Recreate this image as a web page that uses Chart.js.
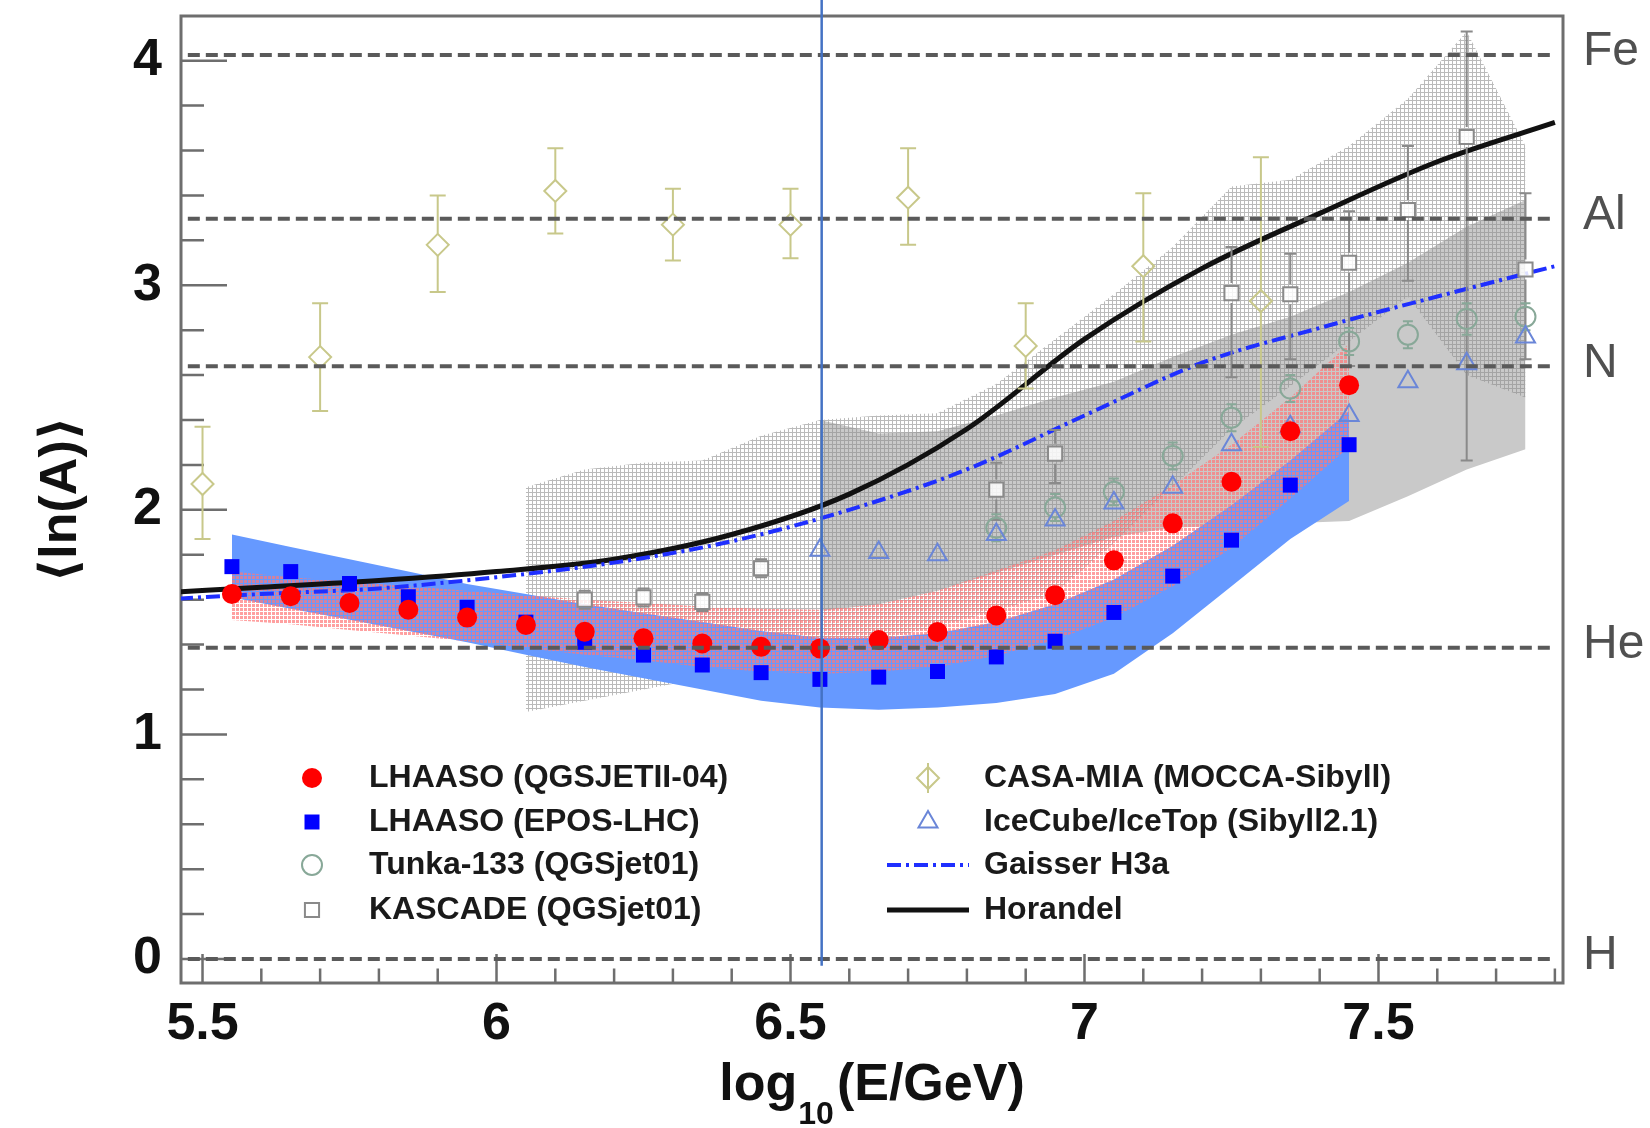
<!DOCTYPE html>
<html>
<head>
<meta charset="utf-8">
<title>Mean logarithmic mass vs energy</title>
<script src="https://cdn.jsdelivr.net/npm/chart.js@4.4.1/dist/chart.umd.min.js"></script>
<style>
  html, body { margin: 0; padding: 0; background: #fff; }
  #wrap { width: 1650px; height: 1128px; }
</style>
</head>
<body>
<div id="wrap"><canvas id="lnA" width="1650" height="1128"></canvas></div>
<script>
const FONT = '"Liberation Sans", Arial, "DejaVu Sans", sans-serif';

// LHAASO energy bins (log10 E/GeV)
const lhaasoE = [5.55, 5.65, 5.75, 5.85, 5.95, 6.05, 6.15, 6.25, 6.35, 6.45,
                 6.55, 6.65, 6.75, 6.85, 6.95, 7.05, 7.15, 7.25, 7.35, 7.45];
const qgsLnA    = [1.625, 1.615, 1.585, 1.555, 1.52, 1.487, 1.457, 1.428, 1.405, 1.39,
                   1.383, 1.42, 1.456, 1.53, 1.62, 1.775, 1.94, 2.125, 2.35, 2.555];
const qgsSysHi  = [1.725, 1.70, 1.68, 1.66, 1.64, 1.62, 1.60, 1.585, 1.57, 1.56,
                   1.555, 1.58, 1.64, 1.73, 1.82, 1.95, 2.11, 2.29, 2.50, 2.74];
const qgsSysLo  = [1.51, 1.49, 1.465, 1.44, 1.415, 1.385, 1.355, 1.33, 1.30, 1.28,
                   1.27, 1.28, 1.30, 1.35, 1.42, 1.52, 1.66, 1.83, 2.05, 2.28];
const eposLnA   = [1.747, 1.725, 1.672, 1.613, 1.566, 1.50, 1.41, 1.353, 1.309, 1.275,
                   1.245, 1.255, 1.28, 1.345, 1.415, 1.543, 1.705, 1.865, 2.11, 2.29];
const eposSysHi = [1.89, 1.835, 1.78, 1.725, 1.67, 1.625, 1.58, 1.54, 1.50, 1.46,
                   1.43, 1.43, 1.45, 1.50, 1.58, 1.69, 1.84, 2.02, 2.22, 2.44];
const eposSysLo = [1.61, 1.56, 1.51, 1.46, 1.41, 1.355, 1.30, 1.25, 1.20, 1.15,
                   1.12, 1.11, 1.12, 1.14, 1.18, 1.27, 1.45, 1.66, 1.87, 2.04];

// KASCADE
const kascadeE     = [6.15, 6.25, 6.35, 6.45, 6.85, 6.95, 7.25, 7.35, 7.45, 7.55, 7.65, 7.75];
const kascadeLnA   = [1.60, 1.61, 1.59, 1.74, 2.09, 2.25, 2.965, 2.96, 3.10, 3.335, 3.66, 3.07];
const kascadeErrLo = [1.56, 1.57, 1.55, 1.70, 1.955, 2.12, 2.59, 2.67, 2.64, 3.02, 2.22, 2.67];
const kascadeErrHi = [1.64, 1.65, 1.63, 1.78, 2.21, 2.355, 3.17, 3.14, 3.33, 3.62, 4.13, 3.41];
const kascadeSysE  = [6.05, 6.15, 6.25, 6.35, 6.45, 6.55, 6.65, 6.75, 6.85, 6.95,
                      7.05, 7.15, 7.25, 7.35, 7.45, 7.55, 7.65, 7.75];
const kascadeSysHi = [2.10, 2.18, 2.21, 2.22, 2.33, 2.40, 2.42, 2.43, 2.56, 2.76,
                      2.96, 3.17, 3.44, 3.47, 3.62, 3.83, 4.13, 3.62];
const kascadeSysLo = [1.10, 1.15, 1.20, 1.25, 1.30, 1.36, 1.42, 1.48, 1.55, 1.63,
                      1.85, 2.10, 2.36, 2.55, 2.75, 2.95, 2.60, 2.50];

// solid grey systematic band
const greySysE  = [6.55, 6.65, 6.75, 6.85, 6.95, 7.05, 7.15, 7.25, 7.35, 7.45, 7.55, 7.65, 7.75];
const greySysHi = [2.40, 2.34, 2.35, 2.42, 2.50, 2.57, 2.68, 2.78, 2.86, 2.97, 3.10, 3.26, 3.38];
const greySysLo = [1.55, 1.58, 1.64, 1.72, 1.80, 1.88, 1.92, 1.93, 1.94, 1.95, 2.06, 2.18, 2.27];

// Tunka-133
const tunkaE     = [6.85, 6.95, 7.05, 7.15, 7.25, 7.35, 7.45, 7.55, 7.65, 7.75];
const tunkaLnA   = [1.92, 2.01, 2.08, 2.24, 2.41, 2.54, 2.75, 2.78, 2.85, 2.86];
const tunkaErrLo = [1.86, 1.95, 2.02, 2.18, 2.35, 2.48, 2.69, 2.72, 2.78, 2.80];
const tunkaErrHi = [1.98, 2.07, 2.14, 2.30, 2.47, 2.60, 2.81, 2.84, 2.92, 2.92];

// IceCube/IceTop
const iceTopE   = [6.55, 6.65, 6.75, 6.85, 6.95, 7.05, 7.15, 7.25, 7.35, 7.45, 7.55, 7.65, 7.75];
const iceTopLnA = [1.82, 1.81, 1.80, 1.89, 1.955, 2.03, 2.10, 2.29, 2.37, 2.42, 2.57, 2.65, 2.77];

// CASA-MIA
const casaE     = [5.5, 5.7, 5.9, 6.1, 6.3, 6.5, 6.7, 6.9, 7.1, 7.3];
const casaLnA   = [2.115, 2.68, 3.18, 3.42, 3.27, 3.27, 3.39, 2.73, 3.085, 2.93];
const casaErrLo = [1.87, 2.44, 2.97, 3.23, 3.11, 3.12, 3.18, 2.54, 2.75, 2.28];
const casaErrHi = [2.37, 2.92, 3.40, 3.61, 3.43, 3.43, 3.61, 2.92, 3.41, 3.57];

// model curves
const modelE      = [5.46, 5.6, 5.8, 6.0, 6.2, 6.4, 6.6, 6.8, 7.0, 7.2, 7.4, 7.6, 7.80];
const horandelLnA = [1.635, 1.655, 1.685, 1.725, 1.78, 1.89, 2.07, 2.36, 2.76, 3.075, 3.32, 3.55, 3.725];
const gaisserLnA  = [1.605, 1.625, 1.65, 1.70, 1.765, 1.86, 2.00, 2.18, 2.42, 2.655, 2.81, 2.95, 3.085];

// pure-element reference levels
const elementNames = ['H', 'He', 'N', 'Al', 'Fe'];
const elementLnA   = [0, 1.386, 2.639, 3.296, 4.025];
const elementSpan  = [5.475, 7.80];

const xRange = [5.4634, 7.8138];
const yRange = [-0.107, 4.199];
const cutE = 6.553;
const cutBottom = -0.03;

const pts = (xs, ys) => xs.map((x, i) => ({x, y: ys[i]}));

function pattern(size, paint) {
  const c = document.createElement('canvas');
  c.width = c.height = size;
  const g = c.getContext('2d');
  paint(g);
  return g.createPattern(c, 'repeat');
}
const greyGrid = pattern(4, g => {
  g.fillStyle = 'rgba(140,140,140,0.6)';
  g.fillRect(0, 0, 4, 1);
  g.fillRect(0, 1, 1, 3);
});
const pinkGrid = pattern(4, g => {
  g.fillStyle = 'rgba(255,120,120,0.7)';
  g.fillRect(0, 0, 3, 3);
});

function band(name, xs, hi, lo, fillColor, order) {
  const base = {borderWidth: 0, pointRadius: 0, order};
  return [
    {...base, label: name + ' upper', data: pts(xs, hi), fill: false},
    {...base, label: name + ' lower', data: pts(xs, lo), fill: '-1', backgroundColor: fillColor}
  ];
}

function markers(label, xs, ys, style, radius, fillColor, lineColor, lineWidth, order, extra) {
  return Object.assign({
    label, data: pts(xs, ys), showLine: false, order,
    pointStyle: style, pointRadius: radius,
    pointBackgroundColor: fillColor, pointBorderColor: lineColor, pointBorderWidth: lineWidth,
    borderColor: lineColor, backgroundColor: fillColor
  }, extra || {});
}

const datasets = [
  ...band('grey sys', greySysE, greySysHi, greySysLo, '#c9c9c9', 100),
  ...band('KASCADE sys', kascadeSysE, kascadeSysHi, kascadeSysLo, greyGrid, 98),
  ...band('EPOS sys', lhaasoE, eposSysHi, eposSysLo, '#6699ff', 96),
  ...band('QGSJET sys', lhaasoE, qgsSysHi, qgsSysLo, pinkGrid, 94),
  {label: 'Horandel', data: pts(modelE, horandelLnA), borderColor: '#111111', borderWidth: 5,
   pointRadius: 0, fill: false, cubicInterpolationMode: 'monotone', order: 90},
  {label: 'Gaisser H3a', data: pts(modelE, gaisserLnA), borderColor: '#1f2fff', borderWidth: 4,
   borderDash: [14, 5, 3, 5], pointRadius: 0, fill: false, cubicInterpolationMode: 'monotone', order: 89},
  markers('KASCADE (QGSjet01)', kascadeE, kascadeLnA, 'rect', 10, 'rgba(255,255,255,0.85)', '#8a8a8a', 2, 80,
          {errLo: kascadeErrLo, errHi: kascadeErrHi, capHalf: 6}),
  markers('Tunka-133 (QGSjet01)', tunkaE, tunkaLnA, 'circle', 10, 'rgba(0,0,0,0)', '#88a898', 2, 79,
          {errLo: tunkaErrLo, errHi: tunkaErrHi, capHalf: 5}),
  markers('IceCube/IceTop (Sibyll2.1)', iceTopE, iceTopLnA, 'triangle', 11, 'rgba(0,0,0,0)', '#6a86d8', 2, 78),
  markers('CASA-MIA (MOCCA-Sibyll)', casaE, casaLnA, 'rectRot', 11, 'rgba(0,0,0,0)', '#c8c88a', 2, 77,
          {errLo: casaErrLo, errHi: casaErrHi, capHalf: 8, legendBar: true}),
  markers('LHAASO (EPOS-LHC)', lhaasoE, eposLnA, 'rect', 10.6, '#0000ff', '#0000ff', 0, 70),
  markers('LHAASO (QGSJETII-04)', lhaasoE, qgsLnA, 'circle', 10, '#ff0000', '#ff0000', 0, 69),
  ...elementLnA.map((v, i) => ({
    label: elementNames[i], data: elementSpan.map(x => ({x, y: v})),
    borderColor: '#5a5a5a', borderWidth: 4, borderDash: [12, 6], pointRadius: 0, fill: false, order: 1
  }))
];

const legendRows = [778, 822, 865, 910];
const legendCols = [{marker: 312, text: 369}, {marker: 928, text: 984}];
const legendEntries = [
  ['LHAASO (QGSJETII-04)', 0, 0], ['LHAASO (EPOS-LHC)', 0, 1],
  ['Tunka-133 (QGSjet01)', 0, 2], ['KASCADE (QGSjet01)', 0, 3],
  ['CASA-MIA (MOCCA-Sibyll)', 1, 0], ['IceCube/IceTop (Sibyll2.1)', 1, 1],
  ['Gaisser H3a', 1, 2], ['Horandel', 1, 3]
];

function markerPath(ctx, style, x, y, r) {
  ctx.beginPath();
  if (style === 'circle') {
    ctx.arc(x, y, r, 0, Math.PI * 2);
  } else if (style === 'rect') {
    const h = r * Math.SQRT1_2;
    ctx.rect(x - h, y - h, 2 * h, 2 * h);
  } else if (style === 'rectRot') {
    ctx.moveTo(x - r, y); ctx.lineTo(x, y - r); ctx.lineTo(x + r, y); ctx.lineTo(x, y + r);
    ctx.closePath();
  } else if (style === 'triangle') {
    let a = 0;
    ctx.moveTo(x + Math.sin(a) * r, y - Math.cos(a) * r);
    a += 2 * Math.PI / 3;
    ctx.lineTo(x + Math.sin(a) * r, y - Math.cos(a) * r);
    a += 2 * Math.PI / 3;
    ctx.lineTo(x + Math.sin(a) * r, y - Math.cos(a) * r);
    ctx.closePath();
  }
}

// frame with inward ticks, ROOT style
const rootFrame = {
  id: 'rootFrame',
  beforeDatasetsDraw(chart) {
    const {ctx, chartArea: a, scales: {x, y}} = chart;
    ctx.save();
    ctx.strokeStyle = '#6e6e6e';
    ctx.lineWidth = 3;
    ctx.strokeRect(a.left, a.top, a.right - a.left, a.bottom - a.top);
    ctx.lineWidth = 2.5;
    ctx.beginPath();
    y.ticks.forEach(t => {
      const py = y.getPixelForValue(t.value);
      const len = Math.abs(t.value - Math.round(t.value)) < 1e-6 ? 46 : 23;
      ctx.moveTo(a.left, py);
      ctx.lineTo(a.left + len, py);
    });
    x.ticks.forEach(t => {
      const px = x.getPixelForValue(t.value);
      const len = Math.abs(t.value * 2 - Math.round(t.value * 2)) < 1e-6 ? 29 : 14.5;
      ctx.moveTo(px, a.bottom);
      ctx.lineTo(px, a.bottom - len);
    });
    ctx.stroke();
    ctx.restore();
  }
};

// vertical error bars, drawn just under their markers
const errorBars = {
  id: 'errorBars',
  beforeDatasetDraw(chart, args) {
    const ds = chart.data.datasets[args.index];
    if (!ds.errLo) return;
    const {ctx, scales: {y}} = chart;
    const r = ds.pointRadius;
    ctx.save();
    ctx.strokeStyle = ds.borderColor;
    ctx.lineWidth = 2;
    ctx.beginPath();
    args.meta.data.forEach((p, i) => {
      const top = y.getPixelForValue(ds.errHi[i]);
      const bot = y.getPixelForValue(ds.errLo[i]);
      if (top < p.y - r) { ctx.moveTo(p.x, top); ctx.lineTo(p.x, p.y - r); }
      if (bot > p.y + r) { ctx.moveTo(p.x, p.y + r); ctx.lineTo(p.x, bot); }
      ctx.moveTo(p.x - ds.capHalf, top); ctx.lineTo(p.x + ds.capHalf, top);
      ctx.moveTo(p.x - ds.capHalf, bot); ctx.lineTo(p.x + ds.capHalf, bot);
    });
    ctx.stroke();
    ctx.restore();
  }
};

const overlay = {
  id: 'overlay',
  afterDraw(chart) {
    const {ctx, chartArea: a, scales: {x, y}} = chart;
    ctx.save();

    // element names next to the dashed levels
    ctx.font = '48px ' + FONT;
    ctx.fillStyle = '#505050';
    ctx.textAlign = 'left';
    ctx.textBaseline = 'middle';
    elementNames.forEach((n, i) => ctx.fillText(n, a.right + 20, y.getPixelForValue(elementLnA[i]) - 3));

    // legend
    ctx.font = 'bold 32px ' + FONT;
    legendEntries.forEach(([label, col, row]) => {
      const ds = chart.data.datasets.find(d => d.label === label);
      const c = legendCols[col], ly = legendRows[row];
      if (ds.showLine === false) {
        if (ds.legendBar) {
          ctx.strokeStyle = ds.borderColor;
          ctx.lineWidth = 2;
          ctx.beginPath();
          ctx.moveTo(c.marker, ly - ds.pointRadius - 4); ctx.lineTo(c.marker, ly + ds.pointRadius + 4);
          ctx.stroke();
        }
        markerPath(ctx, ds.pointStyle, c.marker, ly, ds.pointRadius);
        ctx.fillStyle = ds.pointBackgroundColor;
        ctx.fill();
        if (ds.pointBorderWidth > 0) {
          ctx.strokeStyle = ds.pointBorderColor;
          ctx.lineWidth = ds.pointBorderWidth;
          ctx.stroke();
        }
      } else {
        ctx.strokeStyle = ds.borderColor;
        ctx.lineWidth = ds.borderWidth;
        ctx.setLineDash(ds.borderDash || []);
        ctx.beginPath();
        ctx.moveTo(c.marker - 41, ly); ctx.lineTo(c.marker + 41, ly);
        ctx.stroke();
        ctx.setLineDash([]);
      }
      ctx.fillStyle = '#1a1a1a';
      ctx.fillText(label, c.text, ly);
    });

    // x axis title with subscript
    const base = 1100;
    const mainFont = 'bold 52px ' + FONT, subFont = 'bold 32px ' + FONT;
    ctx.textBaseline = 'alphabetic';
    ctx.fillStyle = '#111';
    ctx.font = mainFont;
    const w1 = ctx.measureText('log').width, w3 = ctx.measureText('(E/GeV)').width;
    ctx.font = subFont;
    const w2 = ctx.measureText('10').width;
    let tx = (a.left + a.right) / 2 - (w1 + w2 + w3 + 4) / 2;
    ctx.font = mainFont; ctx.fillText('log', tx, base); tx += w1 + 1;
    ctx.font = subFont; ctx.fillText('10', tx, base + 24); tx += w2 + 3;
    ctx.font = mainFont; ctx.fillText('(E/GeV)', tx, base);

    // vertical marker line
    const px = x.getPixelForValue(cutE);
    ctx.strokeStyle = '#4472c4';
    ctx.lineWidth = 2.5;
    ctx.beginPath();
    ctx.moveTo(px, 0);
    ctx.lineTo(px, y.getPixelForValue(cutBottom));
    ctx.stroke();
    ctx.restore();
  }
};

const tickFont = {family: FONT, size: 52, weight: 'bold'};

new Chart(document.getElementById('lnA'), {
  type: 'line',
  data: {datasets},
  options: {
    responsive: false,
    animation: false,
    devicePixelRatio: 1,
    layout: {padding: {top: 16, right: 87, left: 0, bottom: 0}},
    plugins: {legend: {display: false}, tooltip: {enabled: false}},
    scales: {
      x: {
        type: 'linear', min: xRange[0], max: xRange[1],
        grid: {display: false}, border: {display: false},
        ticks: {
          stepSize: 0.1, includeBounds: false, autoSkip: false, maxRotation: 0, minRotation: 0,
          padding: 2, color: '#111', font: tickFont,
          callback: v => Math.abs(v * 2 - Math.round(v * 2)) < 1e-6 ? String(Math.round(v * 2) / 2) : ''
        },
        afterFit: s => { s.height = 145; s.paddingLeft = 0; s.paddingRight = 0; }
      },
      y: {
        type: 'linear', min: yRange[0], max: yRange[1],
        grid: {display: false}, border: {display: false},
        ticks: {
          stepSize: 0.2, includeBounds: false, autoSkip: false,
          padding: 11, color: '#111', font: tickFont,
          callback: v => Math.abs(v - Math.round(v)) < 1e-6 ? String(Math.round(v)) : ''
        },
        title: {
          display: true, text: '⟨ln(A)⟩', color: '#111',
          font: {family: FONT, size: 52, weight: 'bold'}, padding: {top: 30, bottom: 0}
        },
        afterFit: s => { s.width = 181; s.paddingTop = 0; s.paddingBottom = 0; }
      }
    }
  },
  plugins: [rootFrame, errorBars, overlay]
});
</script>
</body>
</html>
